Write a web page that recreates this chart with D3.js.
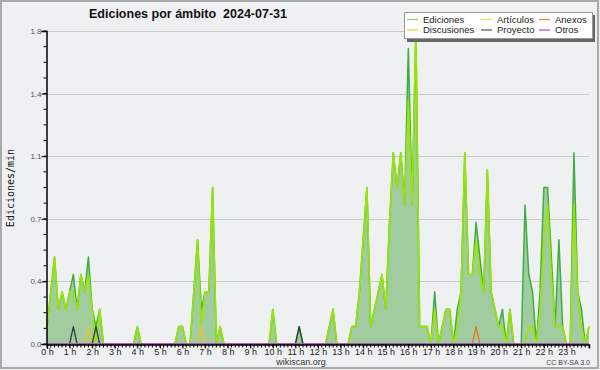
<!DOCTYPE html>
<html>
<head>
<meta charset="utf-8">
<script src="https://cdn.jsdelivr.net/npm/d3@7"></script>
<style>
body{margin:0;padding:0;background:#f0f0f0;}
svg{display:block;}
text{font-family:"Liberation Sans",Arial,sans-serif;}
</style>
</head>
<body>
<svg id="chart"></svg>
<script>
// datos cada 10 minutos (ediciones/min), 0 h .. 24 h
var ediciones = [
0.1,0.3,0.5,0.2,0.3,0.2,0.3,0.4,0.2,0.4,0.3,0.5,
0.2,0.1,0.2,0,0,0,0,0,0,0,0,0,
0.1,0,0,0,0,0,0,0,0,0,0,0.1,
0.1,0,0,0.3,0.6,0.2,0.3,0.3,0.9,0,0.1,0,
0,0,0,0,0,0,0,0,0,0,0,0,
0.2,0,0,0,0,0,0,0.1,0,0,0,0,
0,0,0,0.1,0.2,0,0,0,0,0.1,0.1,0.3,
0.6,0.9,0.1,0.2,0.3,0.4,0.2,0.7,1.1,0.9,1.1,0.8,
1.7,0.8,1.8,0.1,0.1,0.1,0,0.3,0,0.1,0.2,0.2,
0,0.2,0.3,1.1,0.4,0.4,0.7,0.5,0.3,1.0,0.3,0.2,
0.1,0.2,0,0.2,0,0,0,0.8,0.4,0.3,0,0.3,
0.9,0.9,0.5,0.1,0.6,0.1,0,0,1.1,0.3,0.2,0,
0.1];
var articulos = [
0.1,0.3,0.5,0.2,0.3,0.2,0.3,0.3,0.2,0.4,0.3,0.4,
0.2,0,0.2,0,0,0,0,0,0,0,0,0,
0.1,0,0,0,0,0,0,0,0,0,0,0.1,
0.1,0,0,0.3,0.6,0.1,0.3,0.3,0.9,0,0.1,0,
0,0,0,0,0,0,0,0,0,0,0,0,
0.2,0,0,0,0,0,0,0,0,0,0,0,
0,0,0,0.1,0.2,0,0,0,0,0.1,0.1,0.3,
0.6,0.9,0.1,0.2,0.3,0.4,0.2,0.7,1.1,0.9,1.1,0.8,
1.4,0.8,1.8,0.1,0.1,0.1,0,0.2,0,0.1,0.2,0.2,
0,0.1,0.3,1.1,0.4,0.4,0.6,0.4,0.3,1.0,0.3,0.2,
0.1,0.1,0,0.2,0,0,0,0,0.1,0.1,0,0.2,
0.6,0.8,0.4,0.1,0.1,0.1,0,0,0.8,0.3,0.1,0,
0.1];
var discusiones = [
0,0,0,0,0,0,0,0,0,0,0,0.1,
0,0,0,0,0,0,0,0,0,0,0,0,
0,0,0,0,0,0,0,0,0,0,0,0,
0,0,0,0,0,0.1,0,0,0,0,0,0,
0,0,0,0,0,0,0,0,0,0,0,0,
0,0,0,0,0,0,0,0,0,0,0,0,
0,0,0,0,0,0,0,0,0,0,0,0,
0,0,0,0,0,0,0,0,0,0,0,0,
0,0,0,0,0,0,0,0,0,0,0,0,
0,0,0,0,0,0,0,0,0,0,0,0,
0,0,0,0,0,0,0,0,0,0,0,0,
0,0,0,0,0,0,0,0,0,0,0,0,
0];
var proyecto = [
0,0,0,0,0,0,0,0.1,0,0,0,0,
0,0.1,0,0,0,0,0,0,0,0,0,0,
0,0,0,0,0,0,0,0,0,0,0,0,
0,0,0,0,0,0,0,0,0,0,0,0,
0,0,0,0,0,0,0,0,0,0,0,0,
0,0,0,0,0,0,0,0.1,0,0,0,0,
0,0,0,0,0,0,0,0,0,0,0,0,
0,0,0,0,0,0,0,0,0,0,0,0,
0,0,0,0,0,0,0,0,0,0,0,0,
0,0,0,0,0,0,0,0,0,0,0,0,
0,0,0,0,0,0,0,0,0,0,0,0,
0,0,0,0,0,0,0,0,0,0,0,0,
0];
var anexos = [
0,0,0,0,0,0,0,0,0,0,0,0,
0,0,0,0,0,0,0,0,0,0,0,0,
0,0,0,0,0,0,0,0,0,0,0,0,
0,0,0,0,0,0,0,0,0,0,0,0,
0,0,0,0,0,0,0,0,0,0,0,0,
0,0,0,0,0,0,0,0,0,0,0,0,
0,0,0,0,0,0,0,0,0,0,0,0,
0,0,0,0,0,0,0,0,0,0,0,0,
0,0,0,0,0,0,0,0,0,0,0,0,
0,0,0,0,0,0,0.1,0,0,0,0,0,
0,0,0,0,0,0,0,0,0,0,0,0,
0,0,0,0,0,0,0,0,0,0,0,0,
0];
var otros = [
0,0,0,0,0,0,0,0,0,0,0,0,
0,0,0,0,0,0,0,0,0,0,0,0,
0,0,0,0,0,0,0,0,0,0,0,0,
0,0,0,0,0,0,0,0,0,0,0,0,
0,0,0,0,0,0,0,0,0,0,0,0,
0,0,0,0,0,0,0,0,0,0,0,0,
0,0,0,0,0,0,0,0,0,0,0,0,
0,0,0,0,0,0,0,0,0,0,0,0,
0,0,0,0,0,0,0,0,0,0,0,0,
0,0,0,0,0,0,0,0,0,0,0,0,
0,0,0,0,0,0,0,0,0,0,0,0,
0,0,0,0,0,0,0,0,0,0,0,0,
0];
var horas = ["0 h","1 h","2 h","3 h","4 h","5 h","6 h","7 h","8 h","9 h","10 h","11 h",
	"12 h","13 h","14 h","15 h","16 h","17 h","18 h","19 h","20 h","21 h","22 h","23 h"];
var yTicks = [0, 0.36, 0.72, 1.08, 1.44, 1.8];
var yTickLabels = ["0.0","0.4","0.7","1.1","1.4","1.8"];
var leyenda = [
	{name:"Ediciones", color:"#7fd07f"},
	{name:"Discusiones", color:"#f5c82a"},
	{name:"Artículos", color:"#c8f53c"},
	{name:"Proyecto", color:"#555555"},
	{name:"Anexos", color:"#f07a45"},
	{name:"Otros", color:"#9a50e8"}
];

var W = 600, H = 370;
var left = 47, right = 589, top_ = 31, bottom = 344;
var pasoMin = 10; // minutos por punto

var svg = d3.select("#chart").attr("width", W).attr("height", H);

svg.append("rect").attr("x",1).attr("y",1).attr("width",W-3).attr("height",H-3)
	.attr("fill","#eff0f2").attr("stroke","#a9a9a9").attr("stroke-width",2);

var x = d3.scaleLinear().domain([0,24]).range([left,right]);
var y = d3.scaleLinear().domain([0,1.8]).range([bottom,top_]);
var tHora = function(d,i){ return i*pasoMin/60; };

// rejilla
svg.append("g").selectAll("line").data(yTicks.slice(1)).enter().append("line")
	.attr("x1",left).attr("x2",right)
	.attr("y1",function(d){return Math.round(y(d))+0.5;})
	.attr("y2",function(d){return Math.round(y(d))+0.5;})
	.attr("stroke","#c9c9c9").attr("stroke-width",1);

// Ediciones: area
var area = d3.area().x(function(d,i){return x(tHora(d,i));}).y0(bottom).y1(function(d){return y(d);});
svg.append("path").datum(ediciones).attr("d",area)
	.attr("fill","#a0cca0");
var linea = d3.line().x(function(d,i){return x(tHora(d,i));}).y(function(d){return y(d);});
svg.append("path").datum(ediciones).attr("d",linea)
	.attr("fill","none").attr("stroke","#3fae3f").attr("stroke-width",1.5).attr("stroke-linejoin","round");

// otras series
var series = [
	{data:articulos, color:"#9ae600", w:1.6},
	{data:discusiones, color:"#f2c21c", w:1.3},
	{data:proyecto, color:"#2f3f35", w:1.3},
	{data:anexos, color:"#f0702a", w:1.3},
	{data:otros, color:"#9a50e8", w:1.3}
];
svg.append("g").selectAll("path").data(series).enter().append("path")
	.attr("d",function(s){return linea(s.data);})
	.attr("fill","none")
	.attr("stroke",function(s){return s.color;})
	.attr("stroke-width",function(s){return s.w;})
	.attr("stroke-linejoin","round");

// eje y
var yAxis = d3.axisLeft(y).tickValues(yTicks).tickSize(5)
	.tickFormat(function(d,i){return yTickLabels[i];});
var gy = svg.append("g").attr("transform","translate("+(left-0.5)+",0)").call(yAxis);
gy.select(".domain").attr("stroke","#000").attr("stroke-width",1.5);
gy.selectAll(".tick line").attr("stroke","#000");
gy.selectAll(".tick text").attr("font-size",8).attr("fill","#555").attr("x",-5).attr("dy","0.3em")
	.style("font-family","'Liberation Sans',Arial,sans-serif");
var menores = d3.range(0,1.8001,0.09);
gy.selectAll(".menor").data(menores).enter().append("line").attr("class","menor")
	.attr("x1",-3).attr("x2",0)
	.attr("y1",function(d){return y(d);}).attr("y2",function(d){return y(d);})
	.attr("stroke","#000");

// eje x
var xAxis = d3.axisBottom(x).tickValues(d3.range(0,24)).tickSize(4)
	.tickFormat(function(d,i){return horas[i];});
var gx = svg.append("g").attr("transform","translate(0,"+(bottom+0.5)+")").call(xAxis);
gx.select(".domain").attr("stroke","#000").attr("stroke-width",1.5);
gx.selectAll(".tick line").attr("stroke","#000");
gx.selectAll(".tick text").attr("font-size",9).attr("fill","#222").attr("y",4).attr("dy","0.71em")
	.style("font-family","'Liberation Sans',Arial,sans-serif");
gx.selectAll(".menor").data(d3.range(0,24.001,pasoMin/60)).enter().append("line").attr("class","menor")
	.attr("x1",function(d){return x(d);}).attr("x2",function(d){return x(d);})
	.attr("y1",0).attr("y2",3).attr("stroke","#000");

// titulo y textos
svg.append("text").attr("x",188).attr("y",18).attr("text-anchor","middle")
	.attr("font-size",12.5).attr("font-weight","bold").attr("fill","#111")
	.style("white-space","pre").text("Ediciones por ámbito  2024-07-31");
svg.append("text").attr("transform","translate(14,188) rotate(-90)").attr("text-anchor","middle")
	.attr("font-size",10).style("font-family","'DejaVu Sans Mono',monospace").attr("fill","#111")
	.text("Ediciones/min");
svg.append("text").attr("x",301).attr("y",365).attr("text-anchor","middle")
	.attr("font-size",9).attr("fill","#333").text("wikiscan.org");
svg.append("text").attr("x",590).attr("y",365).attr("text-anchor","end")
	.attr("font-size",7).attr("fill","#444").text("CC BY-SA 3.0");

// leyenda
var lg = svg.append("g").attr("transform","translate(404,12)");
lg.append("rect").attr("x",3).attr("y",3).attr("width",188).attr("height",27).attr("fill","#666");
lg.append("rect").attr("x",0.5).attr("y",0.5).attr("width",188).attr("height",26)
	.attr("fill","#fff").attr("stroke","#999");
var colX = [3,77,135];
var item = lg.selectAll(".item").data(leyenda).enter().append("g").attr("class","item")
	.attr("transform",function(d,i){return "translate("+colX[Math.floor(i/2)]+","+(7.5+(i%2)*10.5)+")";});
item.append("line").attr("x1",0).attr("x2",11).attr("y1",0).attr("y2",0)
	.attr("stroke",function(d){return d.color;}).attr("stroke-width",1.2);
item.append("text").attr("x",16).attr("y",0).attr("dy","0.35em").attr("font-size",9.5)
	.attr("fill","#222").text(function(d){return d.name;});
</script>
</body>
</html>
